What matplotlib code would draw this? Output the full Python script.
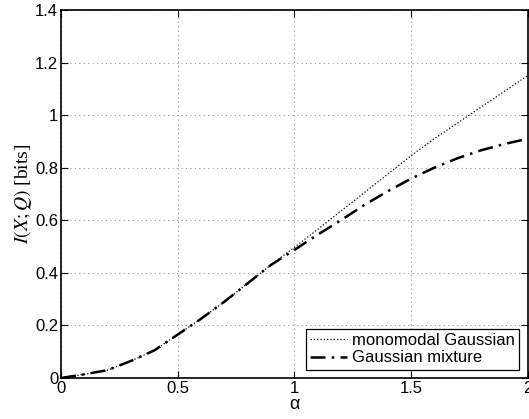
import numpy as np
import matplotlib
matplotlib.use("Agg")
import matplotlib.pyplot as plt

plt.rcParams['font.family'] = ['Liberation Sans', 'DejaVu Sans']
plt.rcParams['mathtext.fontset'] = 'stix'

# values
alpha = [0.0, 0.1, 0.2, 0.3, 0.4, 0.5, 0.6, 0.7, 0.8, 0.9, 1.0,
         1.1, 1.2, 1.3, 1.4, 1.5, 1.6, 1.7, 1.8, 1.9, 2.0]
mono = [0.0, 0.014, 0.030, 0.065, 0.105, 0.165, 0.225, 0.29, 0.36, 0.43, 0.497,
        0.565, 0.635, 0.705, 0.775, 0.845, 0.91, 0.97, 1.03, 1.09, 1.15]
mixture = [0.0, 0.014, 0.030, 0.065, 0.105, 0.165, 0.225, 0.29, 0.36, 0.43, 0.487,
           0.545, 0.60, 0.658, 0.71, 0.758, 0.80, 0.836, 0.866, 0.89, 0.91]
labels = ['monomodal Gaussian', 'Gaussian mixture']

fig = plt.figure(figsize=(5.29, 4.19), dpi=100)
ax = fig.add_axes([61/529, 1 - 378/419, (527.5 - 61)/529, (378 - 10)/419])

ax.plot(alpha, mono, color='black', linestyle=':', linewidth=0.9, label=labels[0])
ax.plot(alpha, mixture, color='black', linestyle=(0, (6, 2.5, 1, 2.5)), linewidth=1.8,
        label=labels[1])

ax.set_xlim(0, 2)
ax.set_ylim(0, 1.4)
ax.set_xticks([0, 0.5, 1, 1.5, 2])
ax.set_xticklabels(['0', '0.5', '1', '1.5', '2'])
ax.set_yticks(np.arange(0, 1.41, 0.2))
ax.set_yticklabels(['0', '0.2', '0.4', '0.6', '0.8', '1', '1.2', '1.4'])
ax.tick_params(direction='in', length=5, width=0.8, labelsize=12,
               top=True, right=True, pad=2)
ax.grid(True, color='#999999', linestyle=(0, (1, 3)), linewidth=0.8)
for s in ax.spines.values():
    s.set_linewidth(1.2)

ax.set_xlabel(r'α', fontsize=13, labelpad=0)
ax.set_ylabel(r'$I(X;Q)$ [bits]', fontsize=14, family='Liberation Serif', labelpad=1)

leg = ax.legend(loc='lower right', fontsize=12, fancybox=False, framealpha=1,
                edgecolor='black', borderpad=0.25, labelspacing=0.15,
                handlelength=2.2, handletextpad=0.3, borderaxespad=0.5)
leg.get_frame().set_linewidth(0.9)

fig.savefig('out.png', dpi=100)
